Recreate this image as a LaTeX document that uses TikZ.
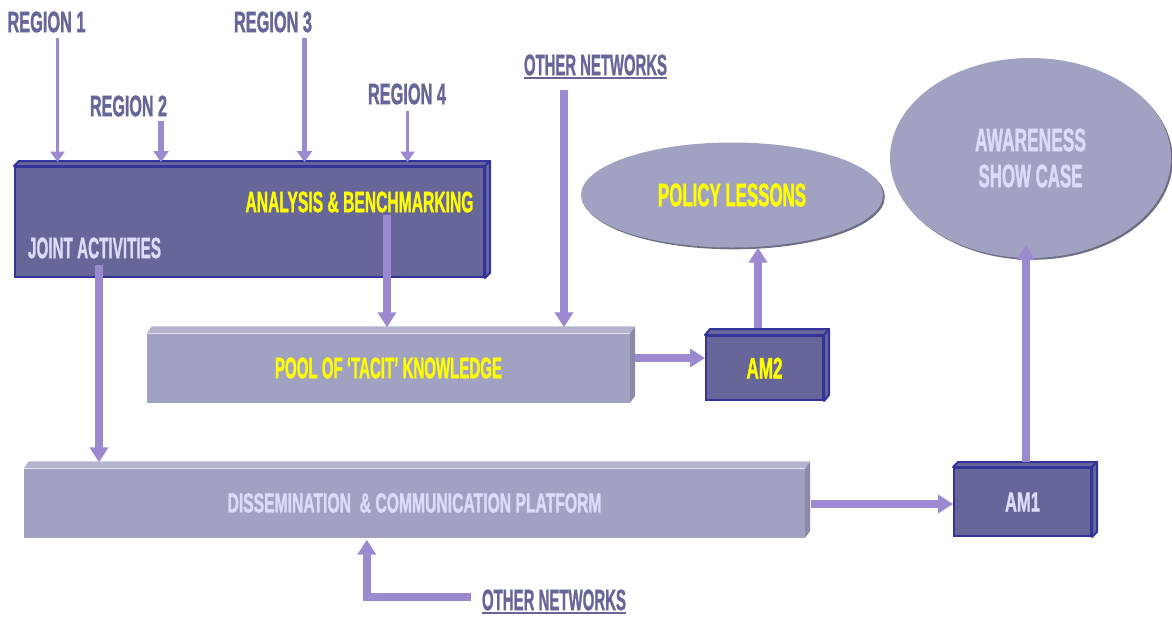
\documentclass[tikz,border=0pt]{standalone}
\usepackage{fontspec}
\usepackage{graphicx}
\usetikzlibrary{shapes.geometric,arrows.meta,calc}
\newfontfamily\cf{Liberation Sans}[FakeBold=1.6]

\definecolor{navy}{HTML}{333399}
\definecolor{slate}{HTML}{666699}
\definecolor{mist}{HTML}{A1A1C1}
\definecolor{mistTop}{HTML}{B4B4CE}
\definecolor{mistSide}{HTML}{8A8AA8}
\definecolor{ovalEdge}{HTML}{6E6E84}
\definecolor{lilac}{HTML}{9C89D0}
\definecolor{pale}{HTML}{DCDCFA}
\definecolor{lemon}{HTML}{FFFF00}

% condensed caption: squeeze the text to a given width, keep its height
\newcommand\sq[2]{\resizebox{#1pt}{\height}{#2}}
% extruded faces (top and right) of a box node
\newcommand\faces[6]{%
  \path[#6,fill=#4] (#1.north west) -- ++(#2,-#3) -- ([shift={(#2pt,#3pt)}]#1.north east) -- (#1.north east) -- cycle;
  \path[#6,fill=#5] (#1.north east) -- ++(#2,-#3) -- ([shift={(#2pt,#3pt)}]#1.south east) -- (#1.south east) -- cycle;
}

\begin{document}
\begin{tikzpicture}[x=1pt,y=-1pt,
  txt/.style={inner sep=0pt, font=\fontsize{29.5}{34}\selectfont\cf\bfseries},
  lbl/.style={txt, text=slate},
  darkbox/.style={draw=navy, line width=2pt, fill=slate, inner sep=0pt, txt},
  lightbox/.style={fill=mist, inner sep=0pt, txt},
  darkedge/.style={draw=navy, line width=2pt, line join=round},
  lightedge/.style={draw=none},
  oval/.style={ellipse, fill=mist, inner sep=0pt, align=center,
    font=\fontsize{32.5}{36}\selectfont\cf\bfseries,
    preaction={fill=ovalEdge, transform canvas={shift={(1.8pt,-1.8pt)}}}},
  arr/.style={draw=lilac, line width=8pt, -{Triangle[width=18pt,length=15pt]}},
  midarr/.style={draw=lilac, line width=5.5pt, -{Triangle[width=15pt,length=11pt]}},
  thinarr/.style={draw=lilac, line width=3pt, -{Triangle[width=14pt,length=10.5pt]}},
]
\useasboundingbox (0,0) rectangle (1172,616);

% ---- boxes ----
\node[darkbox, minimum width=469, minimum height=110] (hub) at (249.5,222) {};
\faces{hub}{5}{5}{slate}{slate}{darkedge}
\node[txt, text=lemon] (ana) at (359.5,202) {\sq{228}{ANALYSIS \& BENCHMARKING}};
\node[txt, text=pale] (joint) at (94.5,248) {\sq{133}{JOINT ACTIVITIES}};

\node[lightbox, minimum width=483, minimum height=69, text=lemon] (pool) at (388.5,368) {\sq{227}{POOL OF ‘TACIT’ KNOWLEDGE}};
\faces{pool}{5}{7}{mistTop}{mistSide}{lightedge}

\node[lightbox, minimum width=781, minimum height=69, text=pale,
  font=\fontsize{27.5}{30}\selectfont\cf\bfseries] (diss) at (414.5,503) {\sq{374}{DISSEMINATION \ \& COMMUNICATION PLATFORM}};
\faces{diss}{5}{7}{mistTop}{mistSide}{lightedge}

\node[darkbox, minimum width=117, minimum height=64, text=lemon] (am2) at (764.5,368) {\sq{36}{AM2}};
\faces{am2}{5}{6}{slate}{slate}{darkedge}

\node[darkbox, minimum width=137, minimum height=68, text=pale,
  font=\fontsize{27.5}{30}\selectfont\cf\bfseries] (am1) at (1022.5,502) {\sq{35}{AM1}};
\faces{am1}{5}{5}{slate}{slate}{darkedge}

% ---- ovals ----
\node[oval, minimum width=302, minimum height=105, text=lemon] (policy) at (732,195) {\sq{148}{POLICY LESSONS}};
\node[oval, minimum width=281, minimum height=200, text=pale] (aware) at (1030.5,158) {\sq{111}{AWARENESS}\\\sq{104}{SHOW CASE}};

% ---- labels ----
\node[lbl] (rg1) at (46.5,22) {\sq{78}{REGION 1}};
\node[lbl] (rg2) at (128.5,106) {\sq{77}{REGION 2}};
\node[lbl] (rg3) at (273,22) {\sq{78}{REGION 3}};
\node[lbl] (rg4) at (407,94) {\sq{78}{REGION 4}};
\node[lbl] (netTop) at (595.5,65) {\sq{143}{OTHER NETWORKS}};
\draw[slate, line width=2pt] ([yshift=-3pt]netTop.base west) -- ([yshift=-3pt]netTop.base east);
\node[lbl] (netBot) at (554,600) {\sq{144}{OTHER NETWORKS}};
\draw[slate, line width=2pt] ([yshift=-3pt]netBot.base west) -- ([yshift=-3pt]netBot.base east);

% rims of the extruded tops, where incoming arrows end
\coordinate (hubRim) at ([yshift=4pt]hub.north);
\coordinate (poolRim) at ([yshift=6pt]pool.north);
\coordinate (dissRim) at ([yshift=6pt]diss.north);

% arrow tails
\coordinate (r1) at (57.5,38);
\coordinate (r2) at (161,121);
\coordinate (r3) at (304.5,38);
\coordinate (r4) at (407.5,111);
\coordinate (anaOut) at (387,215);
\coordinate (jointOut) at (99,265);
\coordinate (netTopOut) at (564,90);
\coordinate (poolOut) at (635,358);
\coordinate (am2Out) at (758,328);
\coordinate (dissOut) at (811,504);
\coordinate (am1Out) at (1026,462);
\coordinate (netBotOut) at (471,596.5);

% ---- connectors ----
\draw[thinarr] (r1) -- (r1 |- hubRim);
\draw[midarr] (r2) -- (r2 |- hubRim);
\draw[midarr] (r3) -- (r3 |- hubRim);
\draw[thinarr] (r4) -- (r4 |- hubRim);
\draw[arr] (anaOut) -- (anaOut |- poolRim);
\draw[arr] (netTopOut) -- (netTopOut |- poolRim);
\draw[arr] (jointOut) -- (jointOut |- dissRim);
\draw[arr] (poolOut) -- (poolOut -| am2.west);
\draw[arr] (am2Out) -- (am2Out |- policy.south);
\draw[arr] (dissOut) -- (dissOut -| am1.west);
\draw[arr, shorten >=-13pt] (am1Out) -- (am1Out |- aware.south);
\draw[arr] (netBotOut) -| ($(diss.south west)+(343,2)$);
\end{tikzpicture}
\end{document}
